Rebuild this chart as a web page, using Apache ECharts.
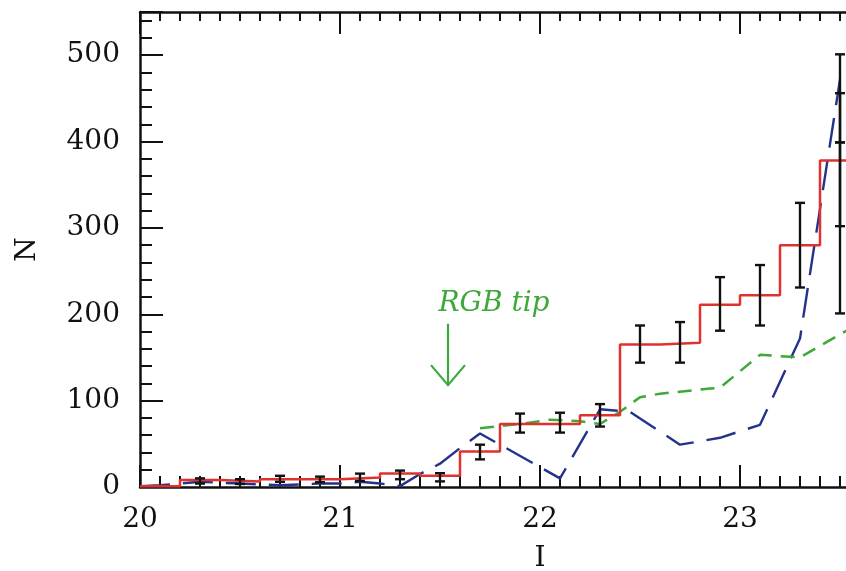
<!doctype html>
<html lang="en">
<head>
<meta charset="UTF-8">
<title>N vs I</title>
</head>
<body style="margin:0">
<script src="https://cdn.jsdelivr.net/npm/echarts@6/dist/echarts.min.js"></script>
<div id="chart" style="width:846px;height:571px"></div>
<script>
// red histogram: bin edges and counts
var binEdges = [20.0, 20.2, 20.4, 20.6, 20.8, 21.0, 21.2, 21.4, 21.6, 21.8, 22.0, 22.2, 22.4, 22.6, 22.8, 23.0, 23.2, 23.4, 23.6];
var binCounts = [1, 8, 6.5, 9, 9, 11, 15.5, 13, 41, 73, 73, 83, 165, 167, 211, 222, 280, 378];

// black error bars
var errX  = [20.3, 20.5, 20.7, 20.9, 21.1, 21.3, 21.5, 21.7, 21.9, 22.1, 22.3, 22.5, 22.7, 22.9, 23.1, 23.3, 23.5, 23.5, 23.5];
var errLo = [4, 3.5, 6, 5.5, 7, 9, 6.5, 32, 63, 63, 70, 144, 144, 181, 187, 231, 302, 201, 399];
var errHi = [10, 9, 13, 12, 15.5, 19, 16, 49, 85, 86, 96, 187, 191, 243, 257, 329, 456, 399, 501];

// blue long-dashed model
var blueX = [20.0, 20.1, 20.2, 20.3, 20.4, 20.5, 20.6, 20.7, 20.8, 20.9, 21.0, 21.1, 21.2, 21.3, 21.4, 21.5, 21.6, 21.7, 22.1, 22.3, 22.45, 22.7, 22.9, 23.1, 23.3, 23.5];
var blueY = [1, 2, 4, 6, 5, 4, 3, 2, 3, 4, 4, 6, 4, 1, 15, 27, 45, 62, 10, 90, 87, 49, 57, 72, 172, 472];

// green short-dashed model
var greenX = [21.7, 21.9, 22.05, 22.2, 22.3, 22.4, 22.5, 22.6, 22.85, 22.9, 23.1, 23.3, 23.6];
var greenY = [68, 73, 78, 76, 73, 87, 104, 108, 114, 115, 153, 150, 190];

// annotation
var tipText = 'RGB tip';
var tipTextPos = [21.77, 212];
var tipArrowX = 21.54;
var tipArrowTop = 189;
var tipArrowEnd = 118;

var histData = binEdges.map(function (e, i) {
    return [e, binCounts[Math.min(i, binCounts.length - 1)]];
});
var errData = errX.map(function (x, i) { return [x, errLo[i], errHi[i]]; });
var blueData = blueX.map(function (x, i) { return [x, blueY[i]]; });
var greenData = greenX.map(function (x, i) { return [x, greenY[i]]; });

var font = 'DejaVu Serif';
var black = '#111';

function xAx(pos, showLabel) {
    return {
        type: 'value', position: pos, min: 20, max: 24, interval: 1,
        axisLine: { show: true, onZero: false, lineStyle: { color: black, width: 2.5 } },
        axisTick: { show: true, inside: true, length: 22, lineStyle: { color: black, width: 2 } },
        minorTick: { show: true, splitNumber: 10, length: pos === 'top' ? 9 : 11, lineStyle: { color: black, width: 2 } },
        splitLine: { show: false },
        axisLabel: { show: showLabel, margin: 19, fontFamily: font, fontSize: 28, color: black },
        name: showLabel ? 'I' : '', nameLocation: 'middle', nameGap: 58,
        nameTextStyle: { fontFamily: font, fontSize: 28, color: black }
    };
}

var chart = echarts.init(document.getElementById('chart'));
chart.setOption({
    animation: false,
    backgroundColor: '#fff',
    grid: { left: 140, top: 12, width: 800, bottom: 84, containLabel: false, outerBoundsMode: 'none' },
    xAxis: [xAx('bottom', true), xAx('top', false)],
    yAxis: [
        {
            type: 'value', position: 'left', min: 0, max: 550, interval: 100,
            axisLine: { show: true, lineStyle: { color: black, width: 2.5 } },
            axisTick: { show: true, inside: true, length: 23, lineStyle: { color: black, width: 2 } },
            splitLine: { show: false },
            axisLabel: {
                margin: 20, fontFamily: font, fontSize: 28, color: black,
                formatter: function (v) { return v > 500 ? '' : String(v); }
            },
            name: 'N', nameLocation: 'middle', nameGap: 98,
            nameTextStyle: { fontFamily: font, fontSize: 28, color: black }
        },
        {
            type: 'value', position: 'left', min: 0, max: 550, interval: 20,
            axisLine: { show: false },
            axisTick: { show: true, inside: true, length: 12, lineStyle: { color: black, width: 2 } },
            splitLine: { show: false },
            axisLabel: { show: false }
        }
    ],
    series: [
        {
            type: 'line', data: blueData, showSymbol: false, symbol: 'none',
            lineStyle: { color: '#24338a', width: 2.4, type: [30, 13] }, z: 3
        },
        {
            type: 'line', data: greenData, showSymbol: false, symbol: 'none',
            lineStyle: { color: '#3ea83a', width: 2.5, type: [14, 9] }, z: 3
        },
        {
            type: 'line', data: histData, step: 'end', showSymbol: false, symbol: 'none',
            lineStyle: { color: '#e0322c', width: 2.5 }, z: 4
        },
        {
            type: 'custom', data: errData, z: 5,
            renderItem: function (params, api) {
                var lo = api.coord([api.value(0), api.value(1)]);
                var hi = api.coord([api.value(0), api.value(2)]);
                var w = 5;
                var st = { stroke: black, lineWidth: 2.4 };
                return {
                    type: 'group',
                    children: [
                        { type: 'line', shape: { x1: lo[0], y1: lo[1], x2: hi[0], y2: hi[1] }, style: st },
                        { type: 'line', shape: { x1: lo[0] - w, y1: lo[1], x2: lo[0] + w, y2: lo[1] }, style: st },
                        { type: 'line', shape: { x1: hi[0] - w, y1: hi[1], x2: hi[0] + w, y2: hi[1] }, style: st }
                    ]
                };
            }
        },
        {
            type: 'custom', data: [[tipArrowX, tipArrowTop, tipArrowEnd]], z: 6,
            renderItem: function (params, api) {
                var top = api.coord([api.value(0), api.value(1)]);
                var end = api.coord([api.value(0), api.value(2)]);
                var txt = api.coord(tipTextPos);
                var st = { stroke: '#3ea83a', lineWidth: 2.2, fill: null };
                return {
                    type: 'group',
                    children: [
                        { type: 'line', shape: { x1: top[0], y1: top[1], x2: end[0], y2: end[1] }, style: st },
                        { type: 'polyline', shape: { points: [[end[0] - 17, end[1] - 20], end, [end[0] + 17, end[1] - 20]] }, style: st },
                        {
                            type: 'text', x: txt[0], y: txt[1],
                            style: {
                                text: tipText, fill: '#3ea83a', font: 'italic 28px "DejaVu Serif"',
                                align: 'center', verticalAlign: 'middle'
                            }
                        }
                    ]
                };
            }
        }
    ]
});
</script>
</body>
</html>
